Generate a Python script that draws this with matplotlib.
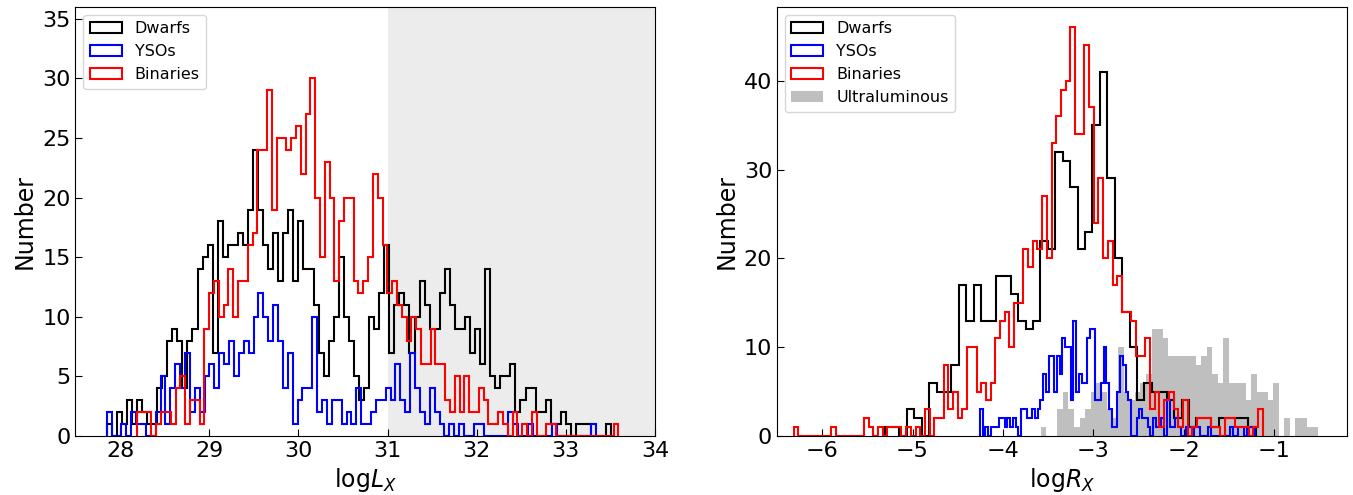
import numpy as np
import matplotlib.pyplot as plt

# ---- left panel: log L_X, 100 bins each ----
lx_dwarfs_range = (27.85, 33.51)
lx_dwarfs = [1, 0, 2, 1, 3, 1, 3, 2, 1, 1,
             4, 5, 8, 9, 8, 4, 8, 9, 14, 15,
             16, 7, 18, 15, 16, 16, 17, 16, 19, 24,
             19, 16, 14, 17, 13, 17, 19, 13, 18, 14,
             14, 11, 7, 5, 8, 10, 15, 10, 8, 5,
             3, 4, 10, 9, 12, 16, 7, 11, 12, 11,
             7, 10, 13, 11, 9, 9, 12, 14, 11, 9,
             9, 10, 7, 9, 6, 14, 5, 4, 5, 5,
             6, 2, 3, 4, 4, 2, 2, 3, 1, 1,
             2, 1, 0, 1, 1, 1, 0, 0, 0, 1]
lx_ysos_range = (27.85, 33.34)
lx_ysos = [2, 0, 0, 1, 0, 2, 1, 1, 0, 0,
           2, 5, 1, 4, 6, 4, 7, 2, 4, 2,
           5, 6, 4, 7, 6, 8, 5, 7, 8, 7,
           10, 12, 10, 8, 11, 8, 4, 7, 1, 3,
           4, 4, 10, 2, 3, 1, 3, 3, 1, 2,
           1, 4, 1, 1, 2, 3, 3, 4, 3, 6,
           3, 2, 7, 4, 2, 1, 4, 2, 1, 0,
           1, 0, 1, 0, 0, 1, 1, 0, 0, 0,
           0, 0, 2, 1, 0, 0, 1, 0, 0, 0,
           0, 1, 0, 0, 0, 0, 0, 0, 0, 1]
lx_binaries_range = (28.19, 33.59)
lx_binaries = [2, 2, 2, 0, 1, 2, 2, 1, 4, 5,
               1, 3, 3, 1, 9, 12, 13, 10, 11, 14,
               10, 13, 13, 16, 17, 24, 24, 29, 19, 25,
               25, 24, 25, 26, 22, 27, 30, 20, 15, 23,
               20, 13, 18, 20, 20, 13, 12, 13, 15, 22,
               20, 16, 12, 13, 11, 10, 8, 10, 9, 6,
               6, 9, 6, 6, 3, 2, 5, 2, 5, 2,
               2, 4, 3, 1, 1, 2, 1, 0, 2, 0,
               1, 0, 2, 0, 0, 1, 1, 0, 0, 0,
               0, 0, 0, 0, 0, 0, 0, 0, 0, 1]

# ---- right panel: log R_X ----
rx_dwarfs_range = (-5.31, -1.20)
rx_dwarfs = [1, 1, 0, 3, 2, 0, 6, 5, 5, 8,
             17, 13, 17, 13, 13, 18, 18, 16, 13, 12,
             13, 22, 21, 32, 31, 28, 21, 23, 35, 41,
             29, 20, 14, 10, 4, 6, 5, 5, 4, 2,
             4, 1, 2, 2, 1, 2, 2, 2, 2, 1]
rx_ysos_range = (-4.254, -1.21)
rx_ysos = [3, 0, 1, 0, 1, 1, 1, 2, 2, 1,
           2, 1, 2, 1, 0, 3, 3, 2, 2, 3,
           2, 3, 4, 7, 5, 9, 9, 5, 9, 7,
           11, 10, 10, 4, 13, 5, 7, 6, 6, 11,
           12, 12, 4, 4, 6, 10, 6, 3, 1, 1,
           5, 9, 8, 5, 4, 0, 0, 2, 3, 2,
           2, 1, 0, 2, 1, 1, 2, 0, 4, 1,
           1, 2, 1, 0, 0, 1, 1, 0, 1, 1,
           0, 0, 0, 1, 0, 0, 0, 0, 0, 0,
           0, 1, 0, 0, 1, 1, 0, 1, 1, 1]
rx_binaries_range = (-6.317, -1.124)
rx_binaries = [1, 0, 0, 0, 0, 0, 0, 0, 1, 0,
               0, 0, 0, 0, 0, 2, 1, 0, 1, 0,
               1, 1, 1, 0, 1, 0, 1, 0, 3, 0,
               2, 2, 8, 3, 5, 2, 3, 10, 10, 5,
               6, 4, 6, 11, 13, 14, 10, 15, 15, 21,
               19, 22, 21, 27, 20, 33, 36, 39, 40, 46,
               34, 34, 44, 37, 24, 29, 20, 22, 17, 18,
               14, 14, 13, 9, 9, 11, 3, 5, 1, 4,
               5, 3, 1, 4, 0, 1, 2, 2, 2, 1,
               1, 0, 2, 2, 1, 1, 1, 0, 1, 3]
rx_ultra_range = (-3.58, -0.516)
rx_ultra = [1, 0, 0, 3, 5, 3, 1, 2, 3, 5,
            6, 5, 3, 2, 10, 5, 4, 5, 6, 7,
            12, 12, 11, 9, 9, 9, 9, 9, 8, 9,
            10, 7, 6, 11, 6, 6, 6, 4, 7, 5,
            5, 4, 6, 0, 2, 0, 2, 2, 1, 1]


def step_hist(ax, counts, rng, **kw):
    edges = np.linspace(rng[0], rng[1], len(counts) + 1)
    centers = 0.5 * (edges[:-1] + edges[1:])
    return ax.hist(centers, bins=edges, weights=counts, **kw)


fig = plt.figure(figsize=(13.53, 4.95), dpi=100)
ax1 = fig.add_axes([0.0558, 0.1192, 0.4283, 0.8667])
ax2 = fig.add_axes([0.5743, 0.1192, 0.4213, 0.8667])

# left
ax1.axvspan(31, 34, color='grey', alpha=0.15, lw=0, zorder=0)
step_hist(ax1, lx_dwarfs, lx_dwarfs_range, histtype='step', color='k', lw=1.5, label='Dwarfs')
step_hist(ax1, lx_ysos, lx_ysos_range, histtype='step', color='b', lw=1.5, label='YSOs')
step_hist(ax1, lx_binaries, lx_binaries_range, histtype='step', color='r', lw=1.5, label='Binaries')
ax1.set_xlim(27.5, 34)
ax1.set_ylim(0, 36)
ax1.set_yticks(np.arange(0, 36, 5))
ax1.set_xlabel(r'log$L_X$', fontsize=17)
ax1.set_ylabel('Number', fontsize=17)
ax1.legend(loc='upper left', fontsize=11.5)

# right
step_hist(ax2, rx_dwarfs, rx_dwarfs_range, histtype='step', color='k', lw=1.5, label='Dwarfs')
step_hist(ax2, rx_ysos, rx_ysos_range, histtype='step', color='b', lw=1.5, label='YSOs')
step_hist(ax2, rx_binaries, rx_binaries_range, histtype='step', color='r', lw=1.5, label='Binaries')
step_hist(ax2, rx_ultra, rx_ultra_range, histtype='stepfilled', color='grey', alpha=0.5,
          lw=0, zorder=0, label='Ultraluminous')
ax2.set_xlim(-6.5, -0.19)
ax2.set_ylim(0, 48.3)
ax2.set_yticks(np.arange(0, 41, 10))
ax2.set_xlabel(r'log$R_X$', fontsize=17)
ax2.set_ylabel('Number', fontsize=17)
ax2.legend(loc='upper left', fontsize=11.5)

for ax in (ax1, ax2):
    ax.tick_params(direction='in', labelsize=16, length=5)

fig.savefig('out.png', dpi=100)
